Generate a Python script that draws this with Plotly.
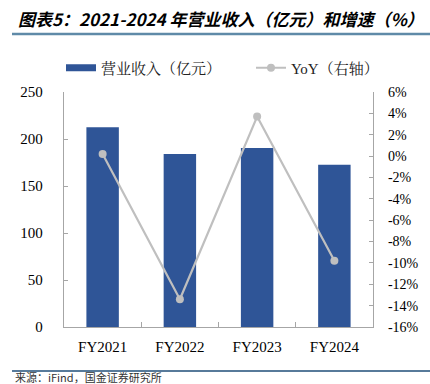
import plotly.graph_objects as go

categories = ["FY2021", "FY2022", "FY2023", "FY2024"]
revenue = [212.4, 184.0, 190.4, 172.5]
yoy = [0.2, -13.4, 3.7, -9.8]
left_ticks = [0, 50, 100, 150, 200, 250]
right_ticks = list(range(-16, 7, 2))

SERIF = "Times New Roman, Liberation Serif, Noto Serif CJK SC, Noto Sans CJK SC, serif"
AXIS_GRAY = "#a6a6a6"
BAR_BLUE = "#2f5597"
LINE_GRAY = "#bfbfbf"

fig = go.Figure()
fig.add_trace(go.Bar(
    x=categories, y=revenue, name="营业收入（亿元）",
    marker=dict(color=BAR_BLUE, line=dict(width=0)),
    width=0.42, yaxis="y", showlegend=False,
))
# legend-only stand-in so the swatch is a wide rectangle like the reference
fig.add_trace(go.Scatter(
    x=[None], y=[None], name="营业收入（亿元）", mode="lines",
    line=dict(color=BAR_BLUE, width=7), yaxis="y", legend="legend",
))
fig.add_trace(go.Scatter(
    x=categories, y=yoy, name="YoY（右轴）", mode="lines+markers",
    line=dict(color=LINE_GRAY, width=2.2),
    marker=dict(color=LINE_GRAY, size=8),
    yaxis="y2", legend="legend2",
))

legend_common = dict(orientation="h", xanchor="left", y=(384 - 68) / 384, yanchor="middle",
                     yref="container", xref="container",
                     font=dict(size=15, family=SERIF, color="#222"),
                     itemwidth=30, tracegroupgap=0, bgcolor="rgba(0,0,0,0)")

fig.update_layout(
    width=430, height=384,
    margin=dict(l=64, r=57, t=92, b=57, autoexpand=False),
    paper_bgcolor="white", plot_bgcolor="white",
    font=dict(family=SERIF, size=15, color="#000000"),
    showlegend=True,
    legend=dict(x=61 / 430, **legend_common),
    legend2=dict(x=251 / 430, **legend_common),
    xaxis=dict(
        showline=True, linecolor=AXIS_GRAY, linewidth=1.3,
        ticks="inside", ticklen=5, tickcolor=AXIS_GRAY, tickson="boundaries",
        tickfont=dict(size=15, family=SERIF), ticklabelstandoff=6,
        showgrid=False,
    ),
    yaxis=dict(
        range=[0, 250], tickvals=left_ticks, showgrid=False, zeroline=False,
        showline=True, linecolor=AXIS_GRAY, linewidth=1.3,
        ticks="inside", ticklen=4, tickcolor=AXIS_GRAY,
        tickfont=dict(size=15, family=SERIF), ticklabelstandoff=17,
    ),
    yaxis2=dict(
        range=[-16, 6], tickvals=right_ticks,
        ticktext=[f"{v}%" for v in right_ticks],
        overlaying="y", side="right", showgrid=False, zeroline=False,
        showline=True, linecolor=AXIS_GRAY, linewidth=1.3,
        ticks="inside", ticklen=4, tickcolor=AXIS_GRAY,
        tickfont=dict(size=14, family=SERIF), ticklabelstandoff=11,
    ),
)

fig.add_annotation(
    text="<b><i>图表5：2021-2024 年营业收入（亿元）和增速（%）</i></b>",
    xref="paper", yref="paper", x=(16 - 64) / 309, y=1 + (92 - 18) / 235,
    xanchor="left", yanchor="middle", showarrow=False,
    font=dict(family="Noto Sans CJK SC, Arial, sans-serif", size=17, color="#000"),
)
fig.add_shape(type="line", xref="paper", yref="paper",
              x0=(12 - 64) / 309, x1=(430 - 64) / 309, y0=1 + (92 - 34) / 235, y1=1 + (92 - 34) / 235,
              line=dict(color="#5f8aa8", width=2.5))
fig.add_shape(type="line", xref="paper", yref="paper",
              x0=(12 - 64) / 309, x1=(430 - 64) / 309, y0=-(371 - 327) / 235, y1=-(371 - 327) / 235,
              line=dict(color="#1f4e79", width=1.5))
fig.add_annotation(
    text="来源：iFind，国金证券研究所",
    xref="paper", yref="paper", x=(13 - 64) / 309, y=-(377 - 327) / 235,
    xanchor="left", yanchor="middle", showarrow=False,
    font=dict(family="Noto Sans CJK SC, sans-serif", size=11, color="#333"),
)

fig.write_html("out.html", config={"displayModeBar": False},
               post_script="document.body.style.margin='0px';document.body.style.overflow='hidden';")
